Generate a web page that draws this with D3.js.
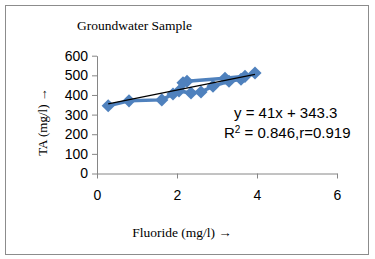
<!DOCTYPE html>
<html>
<head>
<meta charset="utf-8">
<script src="https://cdn.jsdelivr.net/npm/d3@7"></script>
<style>
  body { margin: 0; background: #fff; }
  svg { display: block; }
  .axis path, .axis line { stroke: #868686; }
  .axis text { font-family: "Liberation Sans", Arial, sans-serif; font-size: 14px; fill: #000; }
</style>
</head>
<body>
<svg width="375" height="259"></svg>
<script>
// fluoride (mg/l) and TA (mg/l), in plotted series order
var fluoride = [0.28, 0.8, 1.62, 1.9, 2.05, 2.35, 2.6, 2.9, 3.3, 3.6, 3.95, 3.7, 3.2, 2.25, 2.15];
var ta = [345, 370, 375, 405, 420, 410, 415, 445, 470, 480, 512, 495, 485, 470, 462];
var xTicks = [0, 2, 4, 6];
var yTicks = [0, 100, 200, 300, 400, 500, 600];
var slope = 41, intercept = 343.3;

var svg = d3.select("svg");

svg.append("rect")
  .attr("x", 5.5).attr("y", 5.5)
  .attr("width", 363).attr("height", 249)
  .attr("fill", "#fff").attr("stroke", "#8c8c8c");

var x = d3.scaleLinear().domain([0, 6]).range([97, 337]);
var y = d3.scaleLinear().domain([0, 600]).range([173.5, 55.7]);

svg.append("g").attr("class", "axis")
  .attr("transform", "translate(0,173.5)")
  .call(d3.axisBottom(x).tickValues(xTicks).tickFormat(d3.format("d"))
    .tickSize(5).tickSizeOuter(0).tickPadding(9))
  .selectAll("text").attr("dy", "0.9em");

svg.append("g").attr("class", "axis")
  .attr("transform", "translate(97,0)")
  .call(d3.axisLeft(y).tickValues(yTicks).tickFormat(d3.format("d"))
    .tickSize(5).tickSizeOuter(0).tickPadding(4));

var pts = fluoride.map(function (d, i) { return [d, ta[i]]; });

svg.append("path")
  .datum(pts)
  .attr("fill", "none")
  .attr("stroke", "#4F81BD")
  .attr("stroke-width", 3.5)
  .attr("stroke-linejoin", "round")
  .attr("d", d3.line().x(function (d) { return x(d[0]); }).y(function (d) { return y(d[1]); }));

svg.append("g").selectAll("path")
  .data(pts)
  .enter()
  .append("path")
  .attr("fill", "#4F81BD")
  .attr("transform", function (d) { return "translate(" + x(d[0]) + "," + y(d[1]) + ")"; })
  .attr("d", d3.symbol().type(d3.symbolDiamond2).size(110));

var ext = d3.extent(fluoride);
svg.append("line")
  .attr("x1", x(ext[0])).attr("y1", y(slope * ext[0] + intercept))
  .attr("x2", x(ext[1])).attr("y2", y(slope * ext[1] + intercept))
  .attr("stroke", "#000").attr("stroke-width", 1.2);

var eq = svg.append("g")
  .style("font-family", "'Liberation Sans', Arial, sans-serif")
  .style("font-size", "15px");
eq.append("text").attr("x", 234).attr("y", 118).text("y = 41x + " + intercept);
var r2 = eq.append("text").attr("x", 224).attr("y", 138);
r2.append("tspan").text("R");
r2.append("tspan").attr("dy", -5).style("font-size", "10px").text("2");
r2.append("tspan").attr("dy", 5).text(" = 0.846,r=0.919");

var serif = "'Liberation Serif', 'Times New Roman', serif";
svg.append("text")
  .attr("x", 77).attr("y", 30)
  .style("font-family", serif).style("font-size", "13.5px")
  .text("Groundwater Sample");

svg.append("text")
  .attr("x", 182).attr("y", 237)
  .attr("text-anchor", "middle")
  .style("font-family", serif).style("font-size", "13.5px")
  .text("Fluoride (mg/l) \u2192");

svg.append("text")
  .attr("transform", "translate(47,122) rotate(-90)")
  .attr("text-anchor", "middle")
  .style("font-family", serif).style("font-size", "13px")
  .text("TA (mg/l) \u2192");
</script>
</body>
</html>
